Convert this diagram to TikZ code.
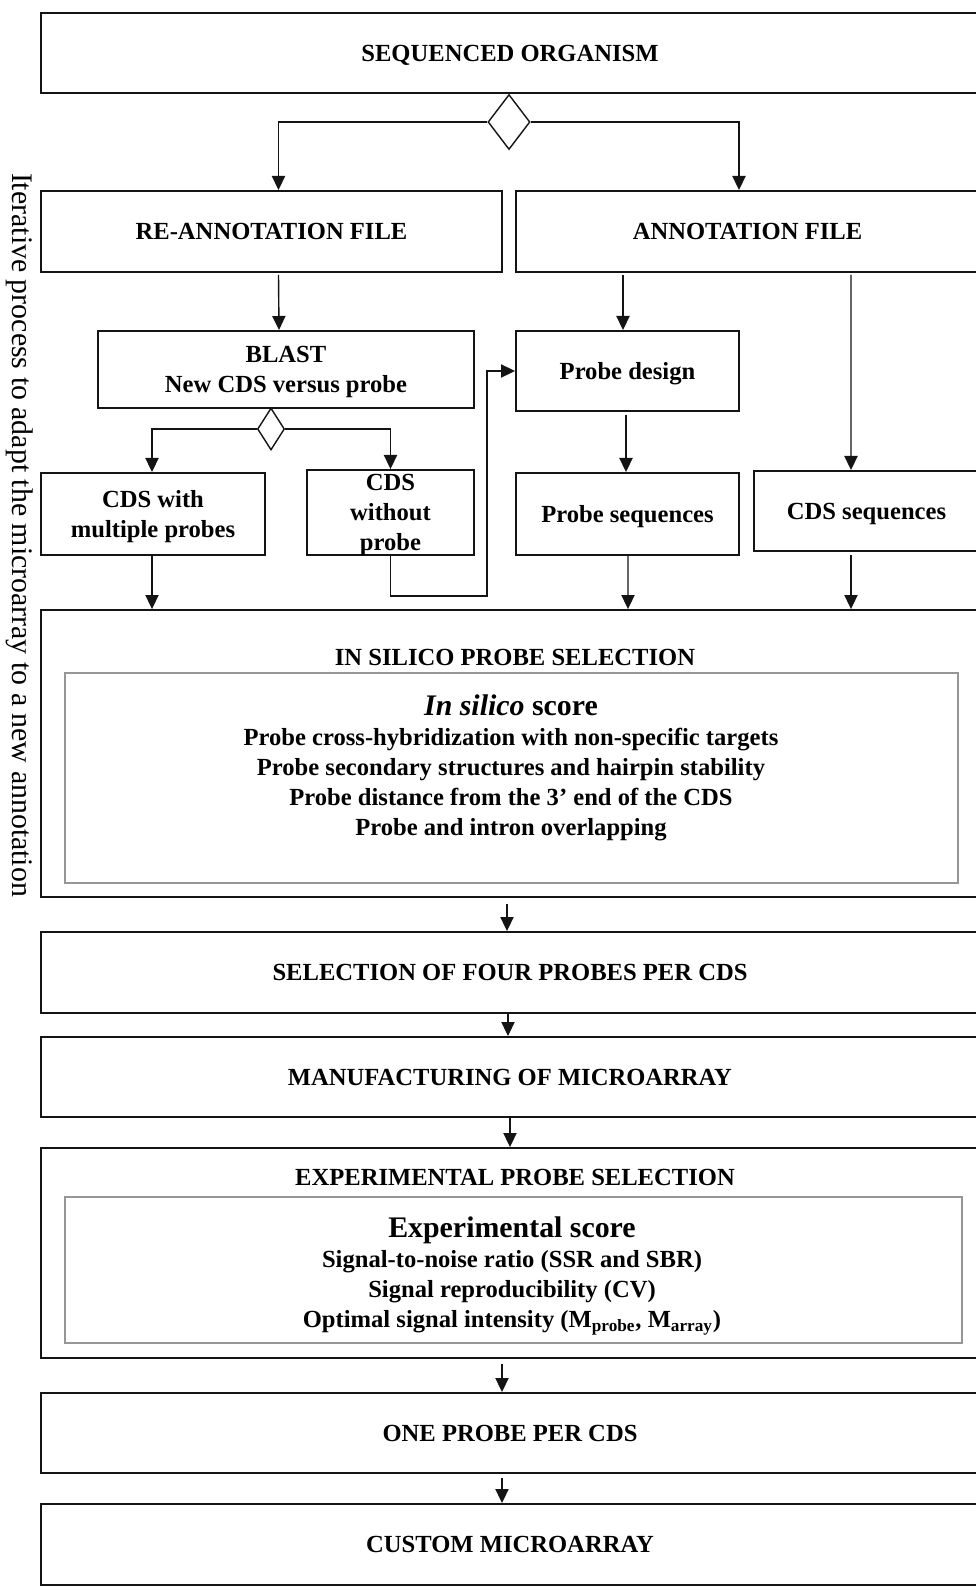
\documentclass[tikz,border=0pt]{standalone}
\usepackage{fontspec}
\setmainfont{Liberation Serif}
\usepackage{tikz}
\usetikzlibrary{shapes.geometric, arrows.meta, positioning, calc}
\definecolor{boxline}{RGB}{20,20,20}
\definecolor{innergray}{RGB}{150,150,150}
\tikzset{
  stage/.style={rectangle, draw=boxline, line width=1.1pt, inner sep=0pt, align=center,
    text depth=0pt, font=\fontsize{14}{17}\selectfont\bfseries},
  inbox/.style={rectangle, draw=innergray, line width=0.8pt, inner sep=0pt},
  split/.style={diamond, draw=boxline, line width=0.8pt, inner sep=0pt, fill=white},
  arrow/.style={-{Triangle[length=8pt, width=7.5pt]}, line width=0.8pt, color=boxline}
}
\begin{document}
\begin{tikzpicture}[x=0.02cm, y=-0.02cm,
  wide/.style={stage, minimum width=18.76cm},
  score/.style={align=center, inner sep=0pt, font=\fontsize{14}{17}\selectfont\bfseries}
]
\useasboundingbox (0,0) rectangle (976,1590);
\node[wide, minimum height=1.6cm] (org) at (510,53) {SEQUENCED ORGANISM};
\node[split, minimum width=0.84cm, minimum height=1.1cm] (dA) at (509,122) {};
\node[stage, minimum width=9.22cm, minimum height=1.62cm] (reann) at (271.5,231.5) {RE-ANNOTATION FILE};
\node[stage, minimum width=9.26cm, minimum height=1.62cm] (annot) at (747.5,231.5) {ANNOTATION FILE};
\node[stage, minimum width=7.52cm, minimum height=1.54cm] (blast) at (286,369.5) {BLAST\\New CDS versus probe};
\node[split, minimum width=0.54cm, minimum height=0.84cm] (dB) at (271,429) {};
\node[stage, minimum width=4.46cm, minimum height=1.6cm] (design) at (627.5,371) {Probe design};
\node[stage, minimum width=4.48cm, minimum height=1.64cm] (multi) at (153,514) {CDS with\\multiple probes};
\node[stage, minimum width=3.34cm, minimum height=1.7cm] (without) at (390.5,512.5) {CDS\\without\\probe};
\node[stage, minimum width=4.46cm, minimum height=1.64cm] (pseq) at (627.5,514) {Probe sequences};
\node[stage, minimum width=4.5cm, minimum height=1.6cm] (cseq) at (866.5,511) {CDS sequences};

\node[wide, minimum height=5.74cm] (silico) at (510,753.5) {};
\node[font=\fontsize{14}{17}\selectfont\bfseries] (siltitle) at (515,657) {IN SILICO PROBE SELECTION};
\node[inbox, minimum width=17.86cm, minimum height=4.2cm] (silin) at (511.5,778) {};
\node[score] (siltext) at (511,768) {{\fontsize{17}{20}\selectfont\textit{In silico} score}\\
  Probe cross-hybridization with non-specific targets\\
  Probe secondary structures and hairpin stability\\
  Probe distance from the 3’ end of the CDS\\
  Probe and intron overlapping};

\node[wide, minimum height=1.62cm] (four) at (510,972.5) {SELECTION OF FOUR PROBES PER CDS};
\node[wide, minimum height=1.6cm] (manuf) at (510,1077) {MANUFACTURING OF MICROARRAY};

\node[wide, minimum height=4.2cm] (exper) at (510,1253) {};
\node[font=\fontsize{14}{17}\selectfont\bfseries] (exptitle) at (515,1177) {EXPERIMENTAL PROBE SELECTION};
\node[inbox, minimum width=17.94cm, minimum height=2.92cm] (expin) at (513.5,1270) {};
\node[score] (exptext) at (512,1276) {{\fontsize{17}{20}\selectfont Experimental score}\\
  Signal-to-noise ratio (SSR and SBR)\\
  Signal reproducibility (CV)\\
  Optimal signal intensity (M\textsubscript{probe}, M\textsubscript{array})};

\node[wide, minimum height=1.6cm] (one) at (510,1433) {ONE PROBE PER CDS};
\node[wide, minimum height=1.62cm] (custom) at (510,1544.5) {CUSTOM MICROARRAY};

\node[rotate=-90, inner sep=0pt, font=\fontsize{17}{20}\selectfont] (iter) at (20,535)
  {Iterative process to adapt the microarray to a new annotation};

\draw[arrow] (dA.west) -| ($(reann.north)+(7,0)$);
\draw[arrow] (dA.east) -| ($(annot.north)+(-8.5,0)$);
\draw[arrow] ($(reann.south)+(7,2)$) -- ($(blast.north)+(-7,0)$);
\draw[arrow] ($(annot.south)+(-124.5,2)$) -- ($(design.north)+(-4.5,0)$);
\draw[arrow] ($(annot.south)+(103.5,2)$) -- ($(cseq.north)+(-15.5,0)$);
\draw[arrow] (dB.west) -| ($(multi.north)+(-1,0)$);
\draw[arrow] (dB.east) -| (without.north);
\draw[arrow] ($(design.south)+(-1.5,3)$) -- ($(pseq.north)+(-1.5,0)$);
\coordinate (back) at (487,596);
\draw[arrow] (without.south) |- (back) |- (design.west);
\draw[arrow] ($(multi.south)+(-1,0)$) -- ($(silico.north)+(-358,0)$);
\draw[arrow] ($(pseq.south)+(0.5,0)$) -- ($(silico.north)+(118,0)$);
\draw[arrow] ($(cseq.south)+(-15.5,3)$) -- ($(silico.north)+(341,0)$);
\draw[arrow] ($(silico.south)+(-3,6)$) -- ($(four.north)+(-3,0)$);
\draw[arrow] ($(four.south)+(-2,0)$) -- ($(manuf.north)+(-2,0)$);
\draw[arrow] (manuf.south) -- (exper.north);
\draw[arrow] ($(exper.south)+(-8,5)$) -- ($(one.north)+(-8,0)$);
\draw[arrow] ($(one.south)+(-8,4)$) -- ($(custom.north)+(-8,0)$);
\end{tikzpicture}
\end{document}
